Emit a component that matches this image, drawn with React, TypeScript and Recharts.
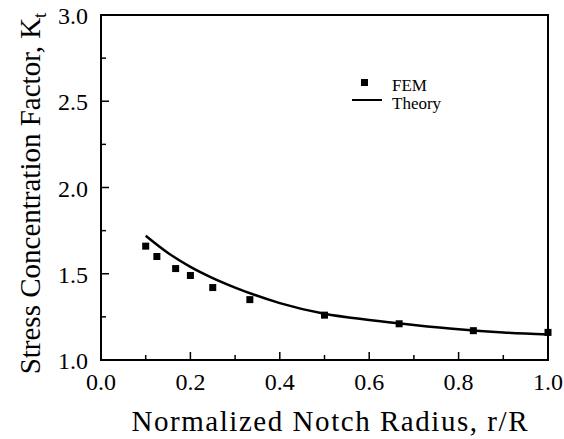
import { ComposedChart, Legend, Line, ReferenceArea, Scatter, XAxis, YAxis } from "recharts";

// FEM results
const femRadius = [0.1, 0.125, 0.167, 0.2, 0.25, 0.333, 0.5, 0.667, 0.833, 1.0];
const femKt = [1.66, 1.6, 1.53, 1.49, 1.42, 1.35, 1.26, 1.21, 1.17, 1.16];

// theory curve samples
const theoryRadius = [0.1, 0.15, 0.2, 0.25, 0.3, 0.4, 0.5, 0.6, 0.7, 0.8, 0.9, 1.0];
const theoryKt = [1.72, 1.62, 1.54, 1.475, 1.42, 1.33, 1.268, 1.232, 1.203, 1.178, 1.16, 1.148];

const xTicks = [0, 0.1, 0.2, 0.3, 0.4, 0.5, 0.6, 0.7, 0.8, 0.9, 1.0];
const yTicks = [1.0, 1.25, 1.5, 1.75, 2.0, 2.25, 2.5, 2.75, 3.0];

const femData = femRadius.map((x, i) => ({ x, y: femKt[i] }));
const theoryData = theoryRadius.map((x, i) => ({ x, y: theoryKt[i] }));

const serif = "'Liberation Serif', 'Times New Roman', serif";

const isMajorX = (v: number) => Math.round(v * 10) % 2 === 0;
const isMajorY = (v: number) => Math.round(v * 4) % 2 === 0;

function XTick(props: any) {
  const { x, y, payload } = props;
  const major = isMajorX(payload.value);
  return (
    <g>
      <line x1={x} y1={y} x2={x} y2={y - (major ? 8 : 5)} stroke="#000" strokeWidth={1.5} />
      {major && (
        <text x={x} y={y + 30} textAnchor="middle" fontFamily={serif} fontSize={24} fill="#000">
          {payload.value.toFixed(1)}
        </text>
      )}
    </g>
  );
}

function YTick(props: any) {
  const { x, y, payload } = props;
  const major = isMajorY(payload.value);
  return (
    <g>
      <line x1={x} y1={y} x2={x + (major ? 8 : 5)} y2={y} stroke="#000" strokeWidth={1.5} />
      {major && (
        <text x={x - 13} y={y + 9} textAnchor="end" fontFamily={serif} fontSize={24} fill="#000">
          {payload.value.toFixed(1)}
        </text>
      )}
    </g>
  );
}

function XTitle(props: any) {
  const vb = props.viewBox;
  return (
    <text
      x={vb.x + vb.width / 2 + 5}
      y={vb.y + 71}
      textAnchor="middle"
      fontFamily={serif}
      fontSize={29}
      textLength={396}
      lengthAdjust="spacing"
      fill="#000"
    >
      Normalized Notch Radius, r/R
    </text>
  );
}

function YTitle(props: any) {
  const vb = props.viewBox;
  const cx = vb.x + 40;
  const cy = vb.y + vb.height / 2 + 6;
  return (
    <text x={cx} y={cy} transform={`rotate(-90, ${cx}, ${cy})`} textAnchor="middle" fontFamily={serif} fontSize={29} fill="#000">
      Stress Concentration Factor, K
      <tspan fontSize={19} dy={6}>t</tspan>
    </text>
  );
}

function KeyBox(props: any) {
  const items = props.payload || [];
  return (
    <div style={{ position: "relative", width: 120, height: 45, fontFamily: serif, fontSize: 17, lineHeight: "17px", color: "#000" }}>
      {items.map((item: any, i: number) => (
        <div key={item.value} style={{ position: "absolute", left: 0, top: i * 18, width: 120, height: 18 }}>
          {item.type === "line" ? (
            <div style={{ position: "absolute", left: 2, top: 9, width: 30, height: 2, background: "#000" }} />
          ) : (
            <div style={{ position: "absolute", left: 11, top: 7, width: 7, height: 7, background: "#000" }} />
          )}
          <span style={{ position: "absolute", left: 42, top: 5 }}>{item.value}</span>
        </div>
      ))}
    </div>
  );
}

export default function App() {
  return (
    <div style={{ position: "absolute", left: 0, top: 0, background: "#fff" }}>
      <ComposedChart width={564} height={439} margin={{ top: 15, right: 16, bottom: 0, left: 0 }}>
        <XAxis
          dataKey="x"
          type="number"
          domain={[0, 1]}
          ticks={xTicks}
          interval={0}
          height={79}
          tickSize={0}
          tickMargin={0}
          tickLine={false}
          tick={<XTick />}
          axisLine={{ stroke: "#000", strokeWidth: 2 }}
          label={<XTitle />}
        />
        <YAxis
          dataKey="y"
          type="number"
          domain={[1, 3]}
          ticks={yTicks}
          interval={0}
          width={101}
          tickSize={0}
          tickMargin={0}
          tickLine={false}
          tick={<YTick />}
          axisLine={{ stroke: "#000", strokeWidth: 2 }}
          label={<YTitle />}
        />
        <ReferenceArea x1={0} x2={1} y1={1} y2={3} fill="none" stroke="#000" strokeWidth={2} ifOverflow="visible" />
        <Legend
          content={<KeyBox />}
          layout="vertical"
          align="center"
          verticalAlign="middle"
          wrapperStyle={{ left: 350, top: 72, width: 120 }}
        />
        <Scatter
          name="FEM"
          data={femData}
          dataKey="y"
          legendType="square"
          fill="#000"
          isAnimationActive={false}
          shape={(p: any) => <rect x={p.cx - 3.5} y={p.cy - 3.5} width={7} height={7} fill="#000" />}
        />
        <Line
          name="Theory"
          data={theoryData}
          dataKey="y"
          type="monotone"
          stroke="#000"
          strokeWidth={2.5}
          dot={false}
          legendType="line"
          isAnimationActive={false}
        />
      </ComposedChart>
    </div>
  );
}
